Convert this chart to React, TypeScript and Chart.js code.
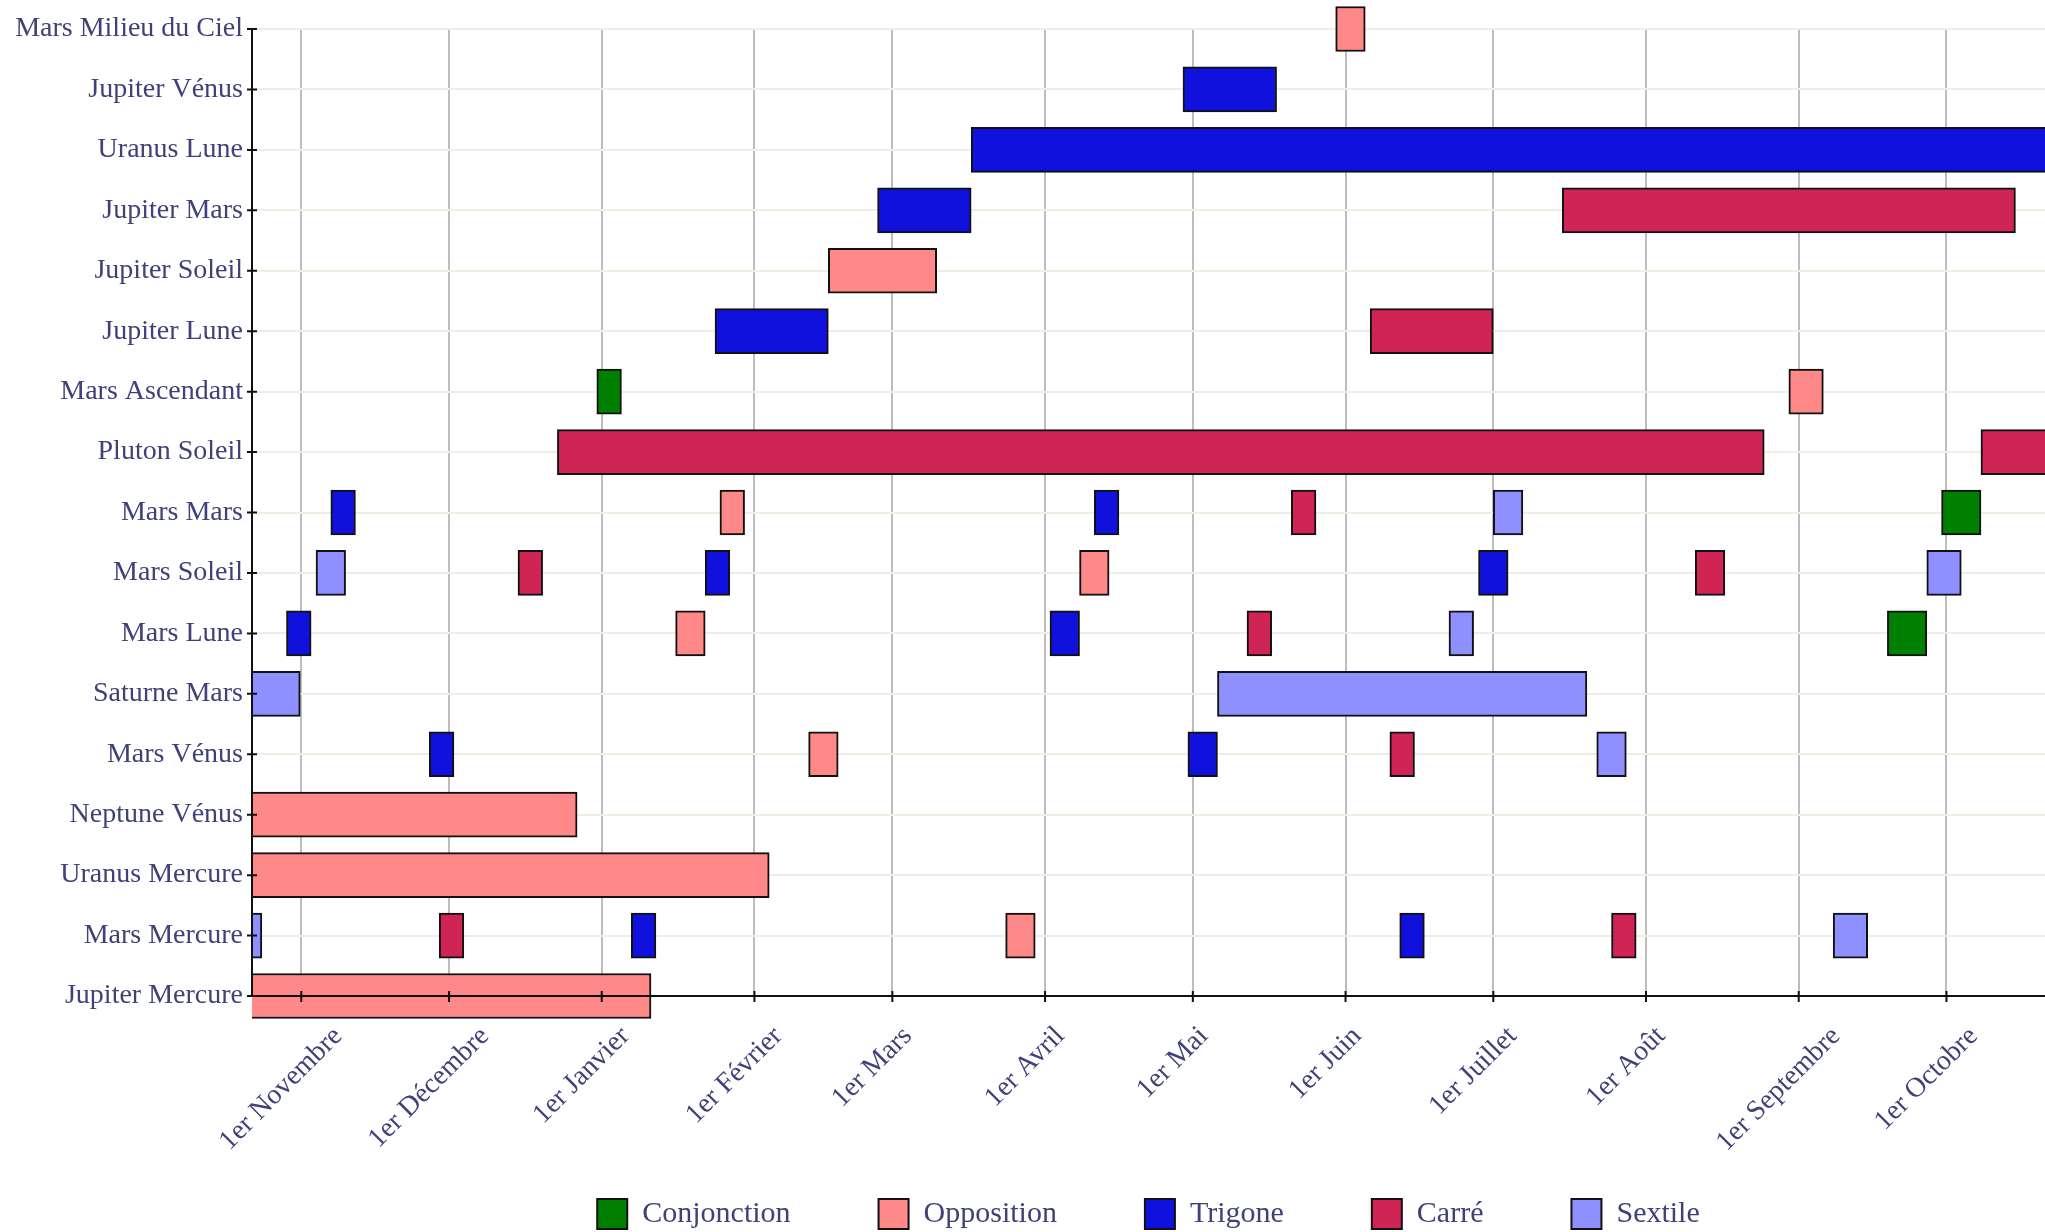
import React, { useEffect, useRef } from "react";
import { Chart, registerables } from "chart.js";

Chart.register(...registerables);

// ---------- data ----------
const categories = [
  "Mars Milieu du Ciel",
  "Jupiter Vénus",
  "Uranus Lune",
  "Jupiter Mars",
  "Jupiter Soleil",
  "Jupiter Lune",
  "Mars Ascendant",
  "Pluton Soleil",
  "Mars Mars",
  "Mars Soleil",
  "Mars Lune",
  "Saturne Mars",
  "Mars Vénus",
  "Neptune Vénus",
  "Uranus Mercure",
  "Mars Mercure",
  "Jupiter Mercure",
];

const origin = "2012-11-01";
const rangeStart = "2012-10-22";
const rangeEnd = "2013-10-21";

const monthStarts = [
  "2012-11-01", "2012-12-01", "2013-01-01", "2013-02-01", "2013-03-01", "2013-04-01",
  "2013-05-01", "2013-06-01", "2013-07-01", "2013-08-01", "2013-09-01", "2013-10-01",
];
const monthLabels = [
  "1er Novembre", "1er Décembre", "1er Janvier", "1er Février", "1er Mars", "1er Avril",
  "1er Mai", "1er Juin", "1er Juillet", "1er Août", "1er Septembre", "1er Octobre",
];

type Span = [string, string, string]; // category, start date, end date

const conjonction: Span[] = [
  ["Mars Ascendant", "2012-12-31", "2013-01-05"],
  ["Mars Mars", "2013-09-30", "2013-10-08"],
  ["Mars Lune", "2013-09-19", "2013-09-27"],
];

const opposition: Span[] = [
  ["Mars Milieu du Ciel", "2013-05-30", "2013-06-05"],
  ["Jupiter Soleil", "2013-02-16", "2013-03-10"],
  ["Mars Ascendant", "2013-08-30", "2013-09-06"],
  ["Mars Mars", "2013-01-25", "2013-01-30"],
  ["Mars Soleil", "2013-04-08", "2013-04-14"],
  ["Mars Lune", "2013-01-16", "2013-01-22"],
  ["Mars Vénus", "2013-02-12", "2013-02-18"],
  ["Neptune Vénus", "2012-10-01", "2012-12-27"],
  ["Uranus Mercure", "2012-10-01", "2013-02-04"],
  ["Mars Mercure", "2013-03-24", "2013-03-30"],
  ["Jupiter Mercure", "2012-10-01", "2013-01-11"],
];

const trigone: Span[] = [
  ["Jupiter Vénus", "2013-04-29", "2013-05-18"],
  ["Uranus Lune", "2013-03-17", "2013-12-01"],
  ["Jupiter Mars", "2013-02-26", "2013-03-17"],
  ["Jupiter Lune", "2013-01-24", "2013-02-16"],
  ["Mars Mars", "2012-11-07", "2012-11-12"],
  ["Mars Mars", "2013-04-11", "2013-04-16"],
  ["Mars Soleil", "2013-01-22", "2013-01-27"],
  ["Mars Soleil", "2013-06-28", "2013-07-04"],
  ["Mars Lune", "2012-10-29", "2012-11-03"],
  ["Mars Lune", "2013-04-02", "2013-04-08"],
  ["Mars Vénus", "2012-11-27", "2012-12-02"],
  ["Mars Vénus", "2013-04-30", "2013-05-06"],
  ["Mars Mercure", "2013-01-07", "2013-01-12"],
  ["Mars Mercure", "2013-06-12", "2013-06-17"],
];

const carre: Span[] = [
  ["Jupiter Mars", "2013-07-15", "2013-10-15"],
  ["Jupiter Lune", "2013-06-06", "2013-07-01"],
  ["Pluton Soleil", "2012-12-23", "2013-08-25"],
  ["Pluton Soleil", "2013-10-08", "2013-12-01"],
  ["Mars Mars", "2013-05-21", "2013-05-26"],
  ["Mars Soleil", "2012-12-15", "2012-12-20"],
  ["Mars Soleil", "2013-08-11", "2013-08-17"],
  ["Mars Lune", "2013-05-12", "2013-05-17"],
  ["Mars Vénus", "2013-06-10", "2013-06-15"],
  ["Mars Mercure", "2012-11-29", "2012-12-04"],
  ["Mars Mercure", "2013-07-25", "2013-07-30"],
];

const sextile: Span[] = [
  ["Mars Mars", "2013-07-01", "2013-07-07"],
  ["Mars Soleil", "2012-11-04", "2012-11-10"],
  ["Mars Soleil", "2013-09-27", "2013-10-04"],
  ["Mars Lune", "2013-06-22", "2013-06-27"],
  ["Saturne Mars", "2012-10-01", "2012-11-01"],
  ["Saturne Mars", "2013-05-06", "2013-07-20"],
  ["Mars Vénus", "2013-07-22", "2013-07-28"],
  ["Mars Mercure", "2012-10-01", "2012-10-24"],
  ["Mars Mercure", "2013-09-08", "2013-09-15"],
];

const aspectNames = ["Conjonction", "Opposition", "Trigone", "Carré", "Sextile"];
const aspectColors = ["#008000", "#ff8888", "#1111dd", "#cf2454", "#8f90ff"];
const aspectSpans = [conjonction, opposition, trigone, carre, sextile];

// ---------- helpers ----------
const DAY = 86400000;
const toDay = (s: string) => (Date.parse(s) - Date.parse(origin)) / DAY;
const toPoints = (spans: Span[]) =>
  spans.map(([cat, s, e]) => ({ y: cat, x: [toDay(s), toDay(e)] }));

const FONT = "'Liberation Serif', 'Times New Roman', serif";
const TEXT = "#3f4178";

// axis lines and tick marks drawn above the bars; month labels centred under their tick
const axesOnTop = {
  id: "axesOnTop",
  afterLayout(chart: any) {
    // let the rotated month labels run down under the legend without being clipped
    const xs = chart.scales.x;
    xs.bottom = chart.height;
    xs.height = xs.bottom - xs.top;
  },
  beforeDraw(chart: any) {
    const xs = chart.scales.x;
    const bottom = chart.chartArea.bottom;
    const items = xs.getLabelItems();
    const ctx = chart.ctx;
    ctx.save();
    items.forEach((item: any, i: number) => {
      const tick = xs.ticks[i];
      if (!tick) return;
      ctx.font = item.font.string;
      const w = ctx.measureText(String(item.label)).width;
      const size = item.font.size;
      const cx = xs.getPixelForValue(tick.value) - 20;
      const cy = bottom + 26 + ((w + size) * Math.SQRT1_2) / 2;
      item.textOffset = 0;
      item.options.textAlign = "center";
      item.options.textBaseline = "middle";
      item.options.translation = [cx, cy];
    });
    ctx.restore();
  },
  afterDatasetsDraw(chart: any) {
    const { ctx, chartArea } = chart;
    const { left, right, top, bottom } = chartArea;
    const xs = chart.scales.x;
    const ys = chart.scales.y;
    ctx.save();
    ctx.strokeStyle = "#111111";
    ctx.lineWidth = 2;
    ctx.beginPath();
    ctx.moveTo(left, top);
    ctx.lineTo(left, bottom);
    ctx.moveTo(left, bottom);
    ctx.lineTo(right, bottom);
    ys.ticks.forEach((_: any, i: number) => {
      const py = ys.getPixelForTick(i);
      ctx.moveTo(left - 5, py);
      ctx.lineTo(left + 5, py);
    });
    xs.ticks.forEach((t: any) => {
      const px = xs.getPixelForValue(t.value);
      ctx.moveTo(px, bottom - 5);
      ctx.lineTo(px, bottom + 6);
    });
    ctx.stroke();
    ctx.restore();
  },
};

export default function App() {
  const ref = useRef<HTMLCanvasElement>(null);

  useEffect(() => {
    const monthDays = monthStarts.map(toDay);
    const chart = new Chart(ref.current as HTMLCanvasElement, {
      type: "bar",
      data: {
        labels: categories,
        datasets: aspectNames.map((name, i) => ({
          label: name,
          data: toPoints(aspectSpans[i]) as any,
          backgroundColor: aspectColors[i],
          borderColor: "#111111",
          borderWidth: 2,
          borderSkipped: false,
          barThickness: 45,
          grouped: false,
          clip: { left: 0, right: 0, top: false, bottom: false } as any,
        })),
      },
      options: {
        indexAxis: "y",
        animation: false,
        responsive: false,
        events: [],
        layout: { padding: { top: 29, right: 0, bottom: 0, left: 0 } },
        plugins: {
          legend: {
            position: "bottom",
            fullSize: false,
            maxHeight: 121,
            labels: {
              font: { family: FONT, size: 30 },
              color: TEXT,
              boxWidth: 30,
              boxHeight: 30,
              padding: 88,
            },
          },
          tooltip: { enabled: false },
        },
        scales: {
          x: {
            type: "linear",
            position: "bottom",
            min: toDay(rangeStart),
            max: toDay(rangeEnd),
            grid: { color: "#bdbdbd", lineWidth: 2, drawTicks: false },
            border: { display: false },
            afterBuildTicks: (axis: any) => {
              axis.ticks = monthDays.map((v) => ({ value: v }));
            },
            afterFit: (axis: any) => {
              axis.height = 115;
            },
            ticks: {
              autoSkip: false,
              minRotation: 45,
              maxRotation: 45,
              padding: 27,
              font: { family: FONT, size: 28 },
              color: TEXT,
              callback: (_v: any, index: number) => monthLabels[index],
            },
          },
          y: {
            type: "category",
            offset: false,
            grid: { offset: false, color: "#efeee3", lineWidth: 2, drawTicks: false },
            border: { display: false },
            afterFit: (axis: any) => {
              axis.width = 252;
            },
            ticks: {
              autoSkip: false,
              padding: 9,
              font: { family: FONT, size: 28 },
              color: TEXT,
            },
          },
        },
      },
      plugins: [axesOnTop],
    } as any);
    return () => chart.destroy();
  }, []);

  return (
    <div
      style={{
        position: "fixed",
        left: 0,
        top: 0,
        width: 2045,
        height: 1232,
        overflow: "hidden",
        background: "#ffffff",
      }}
    >
      <canvas
        ref={ref}
        width={2045}
        height={1232}
        style={{ display: "block", width: 2045, height: 1232 }}
      />
    </div>
  );
}
